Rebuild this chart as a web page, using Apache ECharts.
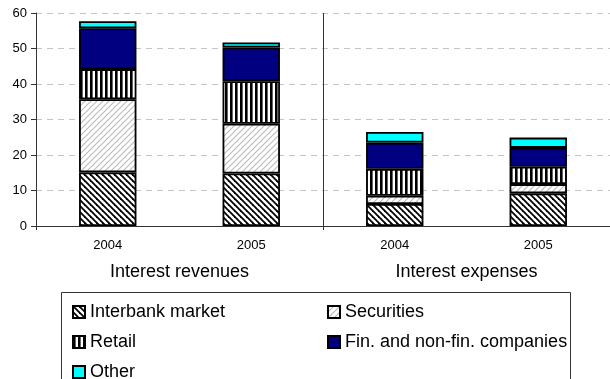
<!DOCTYPE html>
<html>
<head>
<meta charset="utf-8">
<script src="https://cdn.jsdelivr.net/npm/echarts@6/dist/echarts.min.js"></script>
<style>
html, body { margin: 0; padding: 0; background: #fff; }
#main { width: 610px; height: 379px; }
</style>
</head>
<body>
<div id="main"></div>
<script>
// data
var years = ['2004', '2005', '2004', '2005'];
var groups = ['Interest revenues', 'Interest expenses'];
var interbank = [15.1, 14.8, 6.2, 9.2];
var securities = [20.6, 14.0, 2.3, 2.6];
var retail = [8.5, 12.0, 7.6, 4.9];
var companies = [11.5, 9.5, 7.4, 5.3];
var other = [2.0, 1.4, 3.0, 2.9];
var yTicks = { min: 0, max: 60, step: 10 };

var FONT = '"Liberation Sans", Arial, sans-serif';

// pattern fills (Excel style hatching)
function makePattern(w, h, draw) {
	var c = document.createElement('canvas');
	c.width = w;
	c.height = h;
	var ctx = c.getContext('2d');
	ctx.fillStyle = '#fff';
	ctx.fillRect(0, 0, w, h);
	draw(ctx, w, h);
	return { image: c, repeat: 'repeat' };
}
var patDown = makePattern(6, 6, function (ctx, w, h) {
	ctx.strokeStyle = '#000';
	ctx.lineWidth = 1.8;
	for (var k = -w; k <= w; k += w) {
		ctx.beginPath();
		ctx.moveTo(k - 1, -1);
		ctx.lineTo(k + w + 1, h + 1);
		ctx.stroke();
	}
});
var patUp = makePattern(6, 6, function (ctx, w, h) {
	ctx.strokeStyle = '#bdbdbd';
	ctx.lineWidth = 1.2;
	for (var k = -w; k <= w; k += w) {
		ctx.beginPath();
		ctx.moveTo(k - 1, h + 1);
		ctx.lineTo(k + w + 1, -1);
		ctx.stroke();
	}
});
var patVert = makePattern(5, 5, function (ctx, w, h) {
	ctx.fillStyle = '#000';
	ctx.fillRect(0, 0, 2.6, h);
});

function barSeries(name, data, color) {
	return {
		name: name,
		type: 'bar',
		stack: 'all',
		barWidth: '40%',
		data: data,
		itemStyle: { color: color, borderColor: '#000', borderWidth: 1.8 }
	};
}

// one legend box per entry, laid out in two columns like the original
function legendItem(name, left, top) {
	return {
		left: left,
		top: top,
		icon: 'rect',
		itemWidth: 12,
		itemHeight: 12,
		itemStyle: { borderWidth: 2, borderColor: '#000' },
		textStyle: { fontFamily: FONT, fontSize: 18, color: '#000' },
		data: [name]
	};
}

var myChart = echarts.init(document.getElementById('main'));
var option = {
	animation: false,
	grid: { left: 36, top: 13, width: 575, bottom: 153 },
	graphic: [{
		type: 'rect',
		shape: { x: 61.5, y: 292.5, width: 509, height: 120 },
		style: { fill: 'none', stroke: '#333', lineWidth: 1 }
	}],
	legend: [
		legendItem('Interbank market', 67, 298),
		legendItem('Securities', 322, 298),
		legendItem('Retail', 67, 328),
		legendItem('Fin. and non-fin. companies', 322, 328),
		legendItem('Other', 67, 358)
	],
	xAxis: [{
		type: 'category',
		data: years,
		axisLine: { lineStyle: { color: '#333', width: 1 } },
		axisTick: { show: false },
		axisLabel: { fontFamily: FONT, fontSize: 13, color: '#000', margin: 13 }
	}, {
		type: 'category',
		data: groups,
		position: 'bottom',
		axisLine: { show: false },
		axisTick: { show: true, inside: true, length: 213, lineStyle: { color: '#333' } },
		axisLabel: { fontFamily: FONT, fontSize: 18, color: '#000', margin: 37 },
		splitLine: { show: false }
	}, {
		type: 'category',
		data: groups,
		position: 'bottom',
		axisLine: { show: false },
		axisTick: { show: true, length: 4, lineStyle: { color: '#333' } },
		axisLabel: { show: false },
		splitLine: { show: false }
	}],
	yAxis: {
		type: 'value',
		min: yTicks.min,
		max: yTicks.max,
		interval: yTicks.step,
		axisLine: { show: true, lineStyle: { color: '#333', width: 1 } },
		axisTick: { show: true, length: 5, lineStyle: { color: '#333' } },
		axisLabel: { fontFamily: FONT, fontSize: 13, color: '#000', margin: 9 },
		splitLine: { show: true, lineStyle: { color: '#c4c4c4', type: [6, 5], width: 1 } }
	},
	series: [
		barSeries('Interbank market', interbank, patDown),
		barSeries('Securities', securities, patUp),
		barSeries('Retail', retail, patVert),
		barSeries('Fin. and non-fin. companies', companies, '#000080'),
		barSeries('Other', other, '#00ffff')
	]
};
myChart.setOption(option);
</script>
</body>
</html>
